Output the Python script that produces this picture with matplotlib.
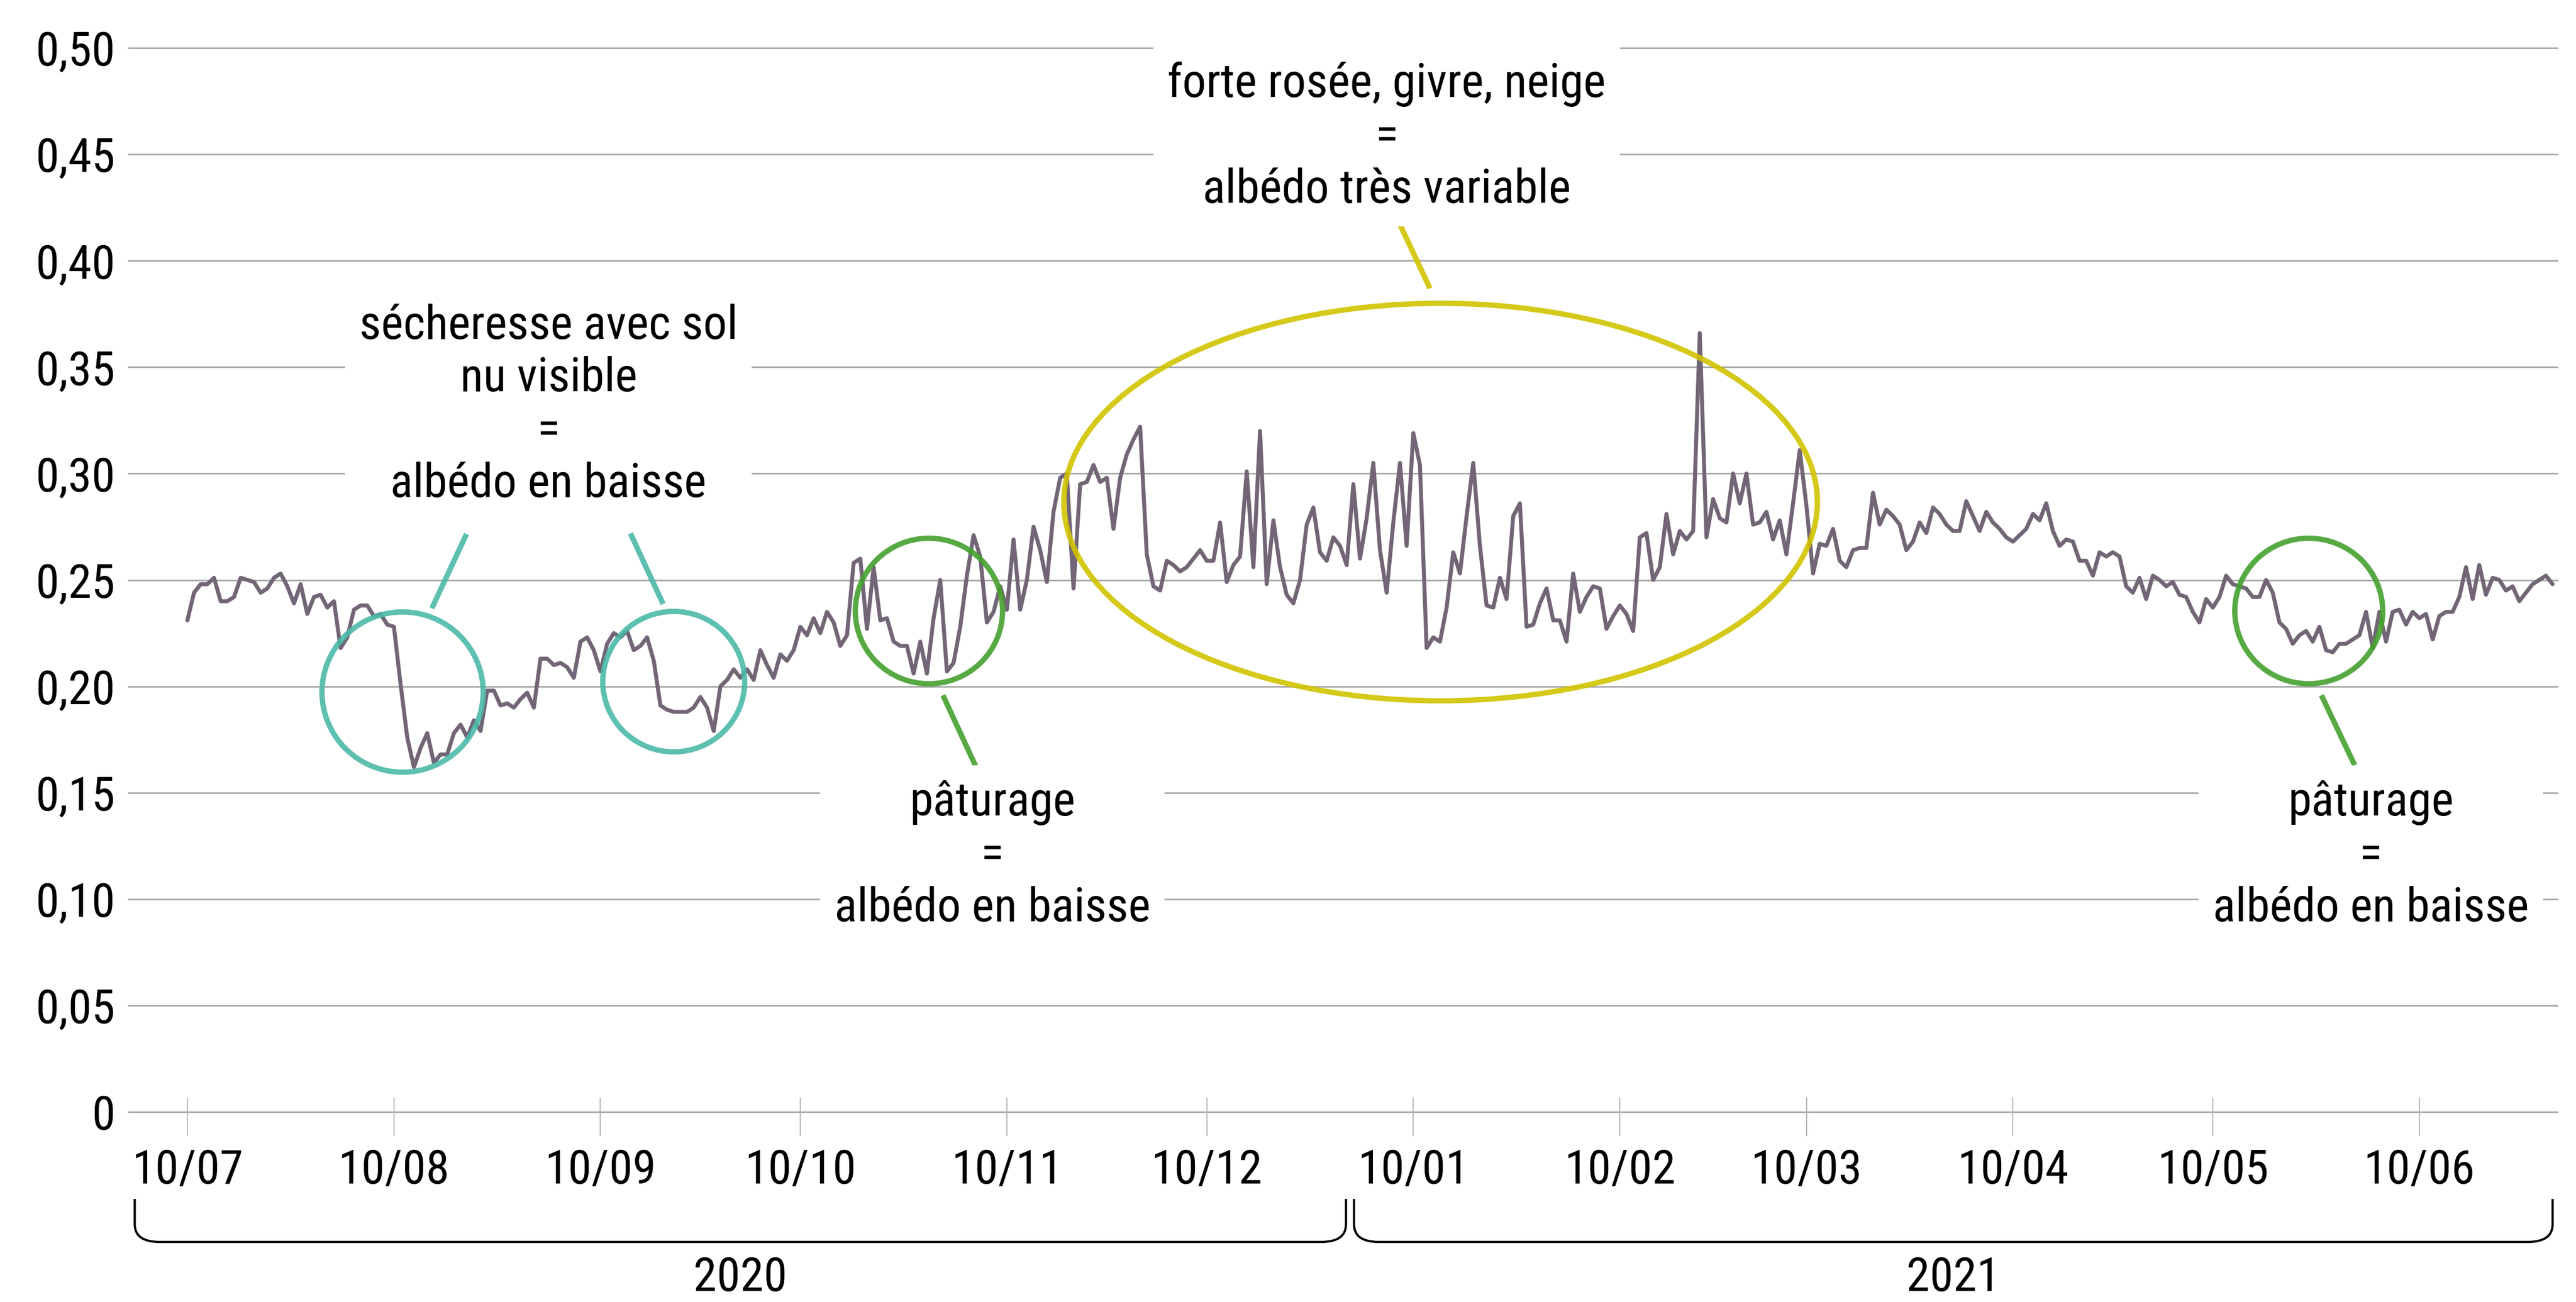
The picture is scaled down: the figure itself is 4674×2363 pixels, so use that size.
import numpy as np
import pandas as pd
import matplotlib
matplotlib.use("Agg")
import matplotlib.pyplot as plt
import matplotlib.dates as mdates
from matplotlib import font_manager as fm
from matplotlib.patches import Ellipse, PathPatch
from matplotlib.path import Path
from matplotlib.transforms import IdentityTransform

# ---------- data: daily albedo, 10/07/2020 -> 30/06/2021 ----------
START = pd.Timestamp("2020-07-10")

albedo_2020 = [
    0.231, 0.244, 0.248, 0.248, 0.251, 0.240, 0.240, 0.242, 0.251, 0.250,
    0.249, 0.244, 0.246, 0.251, 0.253, 0.247, 0.239, 0.248, 0.234, 0.242,
    0.243, 0.237, 0.240, 0.218, 0.223, 0.236, 0.238, 0.238, 0.233, 0.234,
    0.229, 0.228, 0.201, 0.176, 0.162, 0.171, 0.178, 0.164, 0.168, 0.168,
    0.178, 0.182, 0.176, 0.184, 0.179, 0.198, 0.198, 0.191, 0.192, 0.190,
    0.194, 0.197, 0.190, 0.213, 0.213, 0.210, 0.211, 0.209, 0.204, 0.221,
    0.223, 0.217, 0.207, 0.220, 0.225, 0.223, 0.226, 0.217, 0.219, 0.223,
    0.212, 0.191, 0.189, 0.188, 0.188, 0.188, 0.190, 0.195, 0.190, 0.179,
    0.200, 0.203, 0.208, 0.204, 0.208, 0.203, 0.217, 0.210, 0.204, 0.215,
    0.212, 0.217, 0.228, 0.224, 0.232, 0.225, 0.235, 0.230, 0.219, 0.224,
    0.258, 0.260, 0.227, 0.256, 0.231, 0.232, 0.221, 0.219, 0.219, 0.206,
    0.221, 0.206, 0.232, 0.250, 0.207, 0.211, 0.228, 0.252, 0.271, 0.261,
    0.230, 0.235, 0.247, 0.236, 0.269, 0.236, 0.250, 0.275, 0.264, 0.249,
    0.282, 0.298, 0.300, 0.246, 0.295, 0.296, 0.304, 0.296, 0.298, 0.274,
    0.298, 0.309, 0.316, 0.322, 0.262, 0.247, 0.245, 0.259, 0.257, 0.254,
    0.256, 0.260, 0.264, 0.259, 0.259, 0.277, 0.249, 0.257, 0.261, 0.301,
    0.256, 0.320, 0.248, 0.278, 0.256, 0.243, 0.239, 0.250, 0.276, 0.284,
    0.263, 0.259, 0.270, 0.266, 0.257,
]

albedo_2021 = [
    0.295, 0.260, 0.279, 0.305, 0.264, 0.244, 0.277, 0.305, 0.266, 0.319,
    0.304, 0.218, 0.223, 0.221, 0.237, 0.263, 0.253, 0.280, 0.305, 0.266,
    0.238, 0.237, 0.251, 0.241, 0.280, 0.286, 0.228, 0.229, 0.239, 0.246,
    0.231, 0.231, 0.221, 0.253, 0.235, 0.242, 0.247, 0.246, 0.227, 0.233,
    0.238, 0.234, 0.226, 0.270, 0.272, 0.250, 0.256, 0.281, 0.262, 0.273,
    0.269, 0.273, 0.366, 0.270, 0.288, 0.279, 0.277, 0.300, 0.286, 0.300,
    0.276, 0.277, 0.282, 0.269, 0.278, 0.262, 0.286, 0.311, 0.285, 0.253,
    0.267, 0.266, 0.274, 0.259, 0.256, 0.264, 0.265, 0.265, 0.291, 0.276,
    0.283, 0.280, 0.276, 0.264, 0.268, 0.277, 0.272, 0.284, 0.281, 0.276,
    0.273, 0.273, 0.287, 0.280, 0.273, 0.282, 0.277, 0.274, 0.270, 0.268,
    0.271, 0.274, 0.281, 0.278, 0.286, 0.273, 0.266, 0.269, 0.268, 0.259,
    0.259, 0.252, 0.263, 0.261, 0.263, 0.261, 0.247, 0.244, 0.251, 0.241,
    0.252, 0.250, 0.247, 0.249, 0.243, 0.242, 0.235, 0.230, 0.241, 0.237,
    0.242, 0.252, 0.248, 0.247, 0.246, 0.242, 0.242, 0.250, 0.244, 0.230,
    0.227, 0.220, 0.224, 0.226, 0.221, 0.228, 0.217, 0.216, 0.220, 0.220,
    0.222, 0.224, 0.235, 0.218, 0.235, 0.221, 0.235, 0.236, 0.229, 0.235,
    0.232, 0.234, 0.222, 0.233, 0.235, 0.235, 0.242, 0.256, 0.241, 0.257,
    0.243, 0.251, 0.250, 0.245, 0.247, 0.240, 0.244, 0.248, 0.250, 0.252,
    0.248,
]

y_ticks = [0.0, 0.05, 0.10, 0.15, 0.20, 0.25, 0.30, 0.35, 0.40, 0.45, 0.50]
years = ["2020", "2021"]

# ---------- annotations (positions in days after START) ----------
TEAL = "#4bb9a8"
GREEN = "#45a12e"
YELLOW = "#d1c300"

NOTES = [
    # text, (x, y) of the last line's baseline
    ("sécheresse avec sol\nnu visible\n=\nalbédo en baisse", (54.2, 0.2890)),
    ("forte rosée, givre, neige\n=\nalbédo très variable", (180.0, 0.4272)),
    ("pâturage\n=\nalbédo en baisse", (120.8, 0.0896)),
    ("pâturage\n=\nalbédo en baisse", (327.7, 0.0896)),
]
# centre (x, y), width (days), height (albedo), colour
RINGS = [
    ((32.3, 0.1973), 24.2, 0.0753, TEAL),
    ((73.0, 0.2022), 21.3, 0.0660, TEAL),
    ((111.3, 0.2354), 22.1, 0.0684, GREEN),
    ((188.1, 0.2866), 113.1, 0.1868, YELLOW),
    ((318.4, 0.2354), 22.2, 0.0684, GREEN),
]
LEADERS = [
    ((36.7, 0.2367), (41.9, 0.2716), TEAL),
    ((71.4, 0.2387), (66.5, 0.2719), TEAL),
    ((113.4, 0.1958), (118.3, 0.1626), GREEN),
    ((181.6, 0.4197), (186.5, 0.3870), YELLOW),
    ((320.3, 0.1958), (325.3, 0.1629), GREEN),
]
BRACKETS = [(-7.9, 173.9), (175.1, 355.0)]

# ---------- style ----------
LINE_COLOR = "#726676"
GRID_COLOR = "#a6a6a6"
TICK_COLOR = "#b4b4b4"
TEXT_SIZE = 31


def pick_condensed():
    wanted = ["Roboto Condensed", "Liberation Sans Narrow", "Open Sans Condensed",
              "Noto Sans Condensed", "DejaVu Sans Condensed"]
    fonts = fm.fontManager.ttflist
    for name in wanted:
        for f in fonts:
            if f.name == name and f.style == "normal":
                return name, "normal"
    for f in fonts:
        if f.style == "normal" and f.stretch in ("condensed", "semi-condensed", "extra-condensed"):
            return f.name, f.stretch
    return "DejaVu Sans", "normal"


fam, stretch = pick_condensed()
plt.rcParams["font.family"] = [fam, "DejaVu Sans"]
plt.rcParams["font.stretch"] = stretch

W, H, DPI = 4674, 2363, 200
fig = plt.figure(figsize=(W / DPI, H / DPI), dpi=DPI)
ax = fig.add_axes([233 / W, 1 - 2018 / H, (4640 - 233) / W, (2018 - 87) / H])

values = np.array(albedo_2020 + albedo_2021)
dates = pd.date_range(START, periods=len(values), freq="D")
x0 = mdates.date2num(START)

for v in y_ticks:
    ax.axhline(v, color=GRID_COLOR, lw=1.0, zorder=0.5, clip_on=False)

ax.plot(dates, values, color=LINE_COLOR, lw=2.6, solid_joinstyle="round",
        solid_capstyle="round", zorder=3)

for (cx, cy), w, h, col in RINGS:
    ax.add_patch(Ellipse((x0 + cx, cy), w, h, fill=False, ec=col, lw=3.5,
                         alpha=0.9, zorder=4))
for (ax_, ay), (bx, by), col in LEADERS:
    ax.plot([x0 + ax_, x0 + bx], [ay, by], color=col, lw=3.5, alpha=0.9,
            solid_capstyle="butt", zorder=4)
for txt, (tx, ty) in NOTES:
    ax.text(x0 + tx, ty, txt, ha="center", va="baseline", fontsize=TEXT_SIZE,
            linespacing=1.23, zorder=5,
            bbox=dict(boxstyle="square,pad=0.3", fc="white", ec="none"))

ax.set_xlim(x0 - 8.85, x0 + 355.7)
ax.set_ylim(0, 0.5)
ax.set_yticks(y_ticks)
ax.yaxis.set_major_formatter(
    plt.FuncFormatter(lambda v, _: "0" if abs(v) < 1e-9 else f"{v:.2f}".replace(".", ",")))
ax.tick_params(axis="y", length=0, pad=8.6, labelsize=TEXT_SIZE)

ax.xaxis.set_major_locator(mdates.MonthLocator(bymonthday=10))
ax.xaxis.set_minor_locator(mdates.MonthLocator(bymonthday=10))
ax.xaxis.remove_overlapping_locs = False
ax.xaxis.set_major_formatter(mdates.DateFormatter("%d/%m"))
ax.tick_params(axis="x", which="major", direction="out", length=15.8, width=0.7,
               color=TICK_COLOR, pad=8, labelsize=TEXT_SIZE)
ax.tick_params(axis="x", which="minor", direction="in", length=9.4, width=0.7,
               color=TICK_COLOR)
for s in ax.spines.values():
    s.set_visible(False)

# ---------- year brackets below the axis ----------
top, bot, rx, ry = H - 2176, H - 2254, 45, 32
for (b0, b1), label in zip(BRACKETS, years):
    X0 = ax.transData.transform((x0 + b0, 0))[0]
    X1 = ax.transData.transform((x0 + b1, 0))[0]
    verts = [(X0, top), (X0, bot + ry), (X0, bot), (X0 + rx, bot),
             (X1 - rx, bot), (X1, bot), (X1, bot + ry), (X1, top)]
    codes = [Path.MOVETO, Path.LINETO, Path.CURVE3, Path.CURVE3,
             Path.LINETO, Path.CURVE3, Path.CURVE3, Path.LINETO]
    fig.add_artist(PathPatch(Path(verts, codes), fill=False, ec="black", lw=1.45,
                             transform=IdentityTransform()))
    fig.text((X0 + X1) / 2 / W, 1 - 2319 / H, label, ha="center", va="center",
             fontsize=TEXT_SIZE)

fig.savefig("out.png", dpi=DPI)
